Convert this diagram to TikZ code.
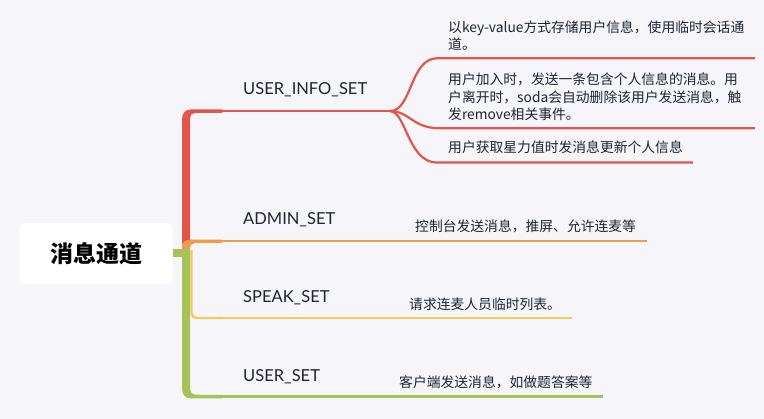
\documentclass[tikz,border=0pt]{standalone}
\usepackage{fontspec}
\setmainfont{Lato}
\newfontfamily\cjk{Noto Sans CJK SC}
\definecolor{bgc}{HTML}{F5F5FA}
\definecolor{cred}{HTML}{E2554A}
\definecolor{corange}{HTML}{EE9B4A}
\definecolor{cyellow}{HTML}{F6CB55}
\definecolor{cgreen}{HTML}{A8C25A}
\definecolor{ctext}{HTML}{1E2532}
\tikzset{
  branchlabel/.style={anchor=base west, inner sep=0pt, text=ctext, font=\fontsize{16.5}{20}\selectfont},
  leaftext/.style={anchor=base west, inner sep=0pt, text=ctext, align=left, font=\cjk\fontsize{13.8}{17.5}\selectfont},
  thinline/.style={line width=2.2pt},
}
\begin{document}
\begin{tikzpicture}[x=1pt,y=-1pt]
\useasboundingbox[fill=bgc] (0,0) rectangle (764,419);
% root
\node[fill=white, rounded corners=6pt, minimum width=154pt, minimum height=61pt, inner sep=0pt, text=black, font=\cjk\bfseries\fontsize{23}{26}\selectfont] (root) at (96,253.5) {消息通道};
% yellow (under green trunk)
\coordinate (ys) at (191.5,250);
\coordinate (ye) at (222,318);
\coordinate (yend) at (572,318);
\draw[cyellow, line width=2.4pt, rounded corners=5pt] (ys) |- (ye);
\draw[cyellow, thinline] (ye) -- (yend);
% red trunk
\fill[cred] (182,244) -- (182,120) .. controls (182,113) and (185,109.3) .. (192,109.3) -- (222,109.5) -- (222,112.8) -- (195,113) .. controls (192,113) and (190,115) .. (190,118) -- (190,244) -- cycle;
\coordinate (rs) at (222,111.1);
\coordinate (rsplit) at (390,111.1);
\draw[cred, thinline] (rs) -- (rsplit);
% orange
\fill[corange] (182,249) -- (182,247) .. controls (182,242) and (185,239.5) .. (192,239.5) -- (222,239.7) -- (222,242.8) -- (195,243) .. controls (192,243) and (190,245) .. (190,249) -- cycle;
\coordinate (os) at (221,241.3);
\coordinate (oend) at (647,241.3);
\draw[corange, thinline] (os) -- (oend);
% green trunk
\fill[cgreen] (root.east|-0,249) rectangle (186,257);
\fill[cgreen] (182,249) -- (182,388) .. controls (182,395) and (185,398.5) .. (192,398.5) -- (222,398.3) -- (222,395) -- (195,394.7) .. controls (192,394.7) and (190,392) .. (190,389) -- (190,249) -- cycle;
\coordinate (gs) at (221,396.6);
\coordinate (gend) at (603,396.6);
\draw[cgreen, thinline] (gs) -- (gend);
% red leaves
\coordinate (l1s) at (437,58.3);
\coordinate (l1e) at (755,58.3);
\coordinate (l2s) at (440,128.3);
\coordinate (l2e) at (755,128.3);
\coordinate (l3s) at (437,162.6);
\coordinate (l3e) at (693,162.6);
\draw[cred, thinline] (rsplit) .. controls (412,111.1) and (410,58.3) .. (l1s) -- (l1e);
\draw[cred, thinline] (rsplit) .. controls (410,111.1) and (412,128.3) .. (l2s) -- (l2e);
\draw[cred, thinline] (rsplit) .. controls (406,111.1) and (408,162.6) .. (l3s) -- (l3e);
% branch labels
\node[branchlabel] (uis) at (243,95) {USER\_INFO\_SET};
\node[branchlabel] (ads) at (243,225) {ADMIN\_SET};
\node[branchlabel] (sps) at (243,303) {SPEAK\_SET};
\node[branchlabel] (uss) at (243,382) {USER\_SET};
% leaf texts (base anchor = last line)
\node[leaftext] (t1) at (448,50) {以key-value方式存储用户信息，使用临时会话通\\道。};
\node[leaftext] (t2) at (448,120) {用户加入时，发送一条包含个人信息的消息。用\\户离开时，soda会自动删除该用户发送消息，触\\发remove相关事件。};
\node[leaftext] (t3) at (448,153) {用户获取星力值时发消息更新个人信息};
\node[leaftext] (t4) at (415,232) {控制台发送消息，推屏、允许连麦等};
\node[leaftext] (t5) at (409,310) {请求连麦人员临时列表。};
\node[leaftext] (t6) at (399,388) {客户端发送消息，如做题答案等};
\end{tikzpicture}
\end{document}
